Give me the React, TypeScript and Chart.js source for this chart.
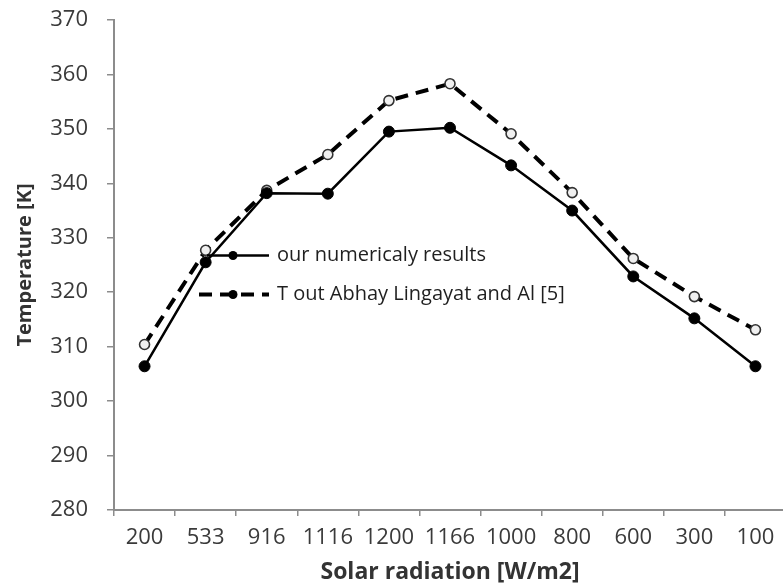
import React, { useEffect, useRef } from "react";
import { Chart, registerables } from "chart.js";

Chart.register(...registerables);

// ---- data ----
const categories = ["200", "533", "916", "1116", "1200", "1166", "1000", "800", "600", "300", "100"];
const numericalResults = [306.4, 325.5, 338.2, 338.1, 349.5, 350.2, 343.3, 335.0, 322.9, 315.2, 306.4];
const lingayatResults = [310.4, 327.7, 338.7, 345.3, 355.2, 358.3, 349.1, 338.3, 326.2, 319.2, 313.1];
const seriesNames = ["our numericaly results", "T out Abhay Lingayat and Al [5]"];
const yMin = 280;
const yMax = 370;
const yStep = 10;
const xTitle = "Solar radiation [W/m2]";
const yTitle = "Temperature [K]";

const FONT = "'Open Sans', 'DejaVu Sans', sans-serif";
const AXIS_COLOR = "#8c8c8c";
const TICK_COLOR = "#3a3a3a";
const TITLE_COLOR = "#333333";

const insideLegend = {
  id: "insideLegend",
  afterDatasetsDraw(chart: any) {
    const ctx = chart.ctx as CanvasRenderingContext2D;
    const area = chart.chartArea;
    const rowsY = [area.top + 235.5, area.top + 274.5];
    const x0 = area.left + 85;
    const x1 = area.left + 155;
    const mx = area.left + 119;
    const tx = area.left + 163;
    chart.data.datasets.forEach((ds: any, i: number) => {
      const y = rowsY[i];
      ctx.save();
      ctx.strokeStyle = ds.borderColor;
      ctx.lineWidth = ds.borderWidth;
      ctx.setLineDash(ds.borderDash || []);
      ctx.lineCap = "butt";
      ctx.beginPath();
      ctx.moveTo(i === 0 ? x0 + 8 : x0, y);
      ctx.lineTo(x1, y);
      ctx.stroke();
      ctx.setLineDash([]);
      ctx.fillStyle = "#000";
      ctx.beginPath();
      ctx.arc(mx, y, 4.5, 0, Math.PI * 2);
      ctx.fill();
      ctx.fillStyle = "#1f1f1f";
      ctx.font = `400 20px ${FONT}`;
      ctx.textBaseline = "middle";
      ctx.textAlign = "left";
      ctx.fillText(ds.label, tx, y);
      ctx.restore();
    });
  },
};

export default function App() {
  const ref = useRef<HTMLCanvasElement>(null);

  useEffect(() => {
    if (!ref.current) return;
    const chart = new Chart(ref.current, {
      type: "line",
      data: {
        labels: categories,
        datasets: [
          {
            label: seriesNames[0],
            data: numericalResults,
            borderColor: "#000000",
            borderWidth: 2.5,
            pointRadius: 5.5,
            pointBackgroundColor: "#000000",
            pointBorderColor: "#000000",
            pointBorderWidth: 1,
            tension: 0,
            fill: false,
          },
          {
            label: seriesNames[1],
            data: lingayatResults,
            borderColor: "#000000",
            borderWidth: 4,
            borderDash: [13, 8],
            pointRadius: 5,
            pointBackgroundColor: "#f0f0f0",
            pointBorderColor: "#333333",
            pointBorderWidth: 1.6,
            tension: 0,
            fill: false,
          },
        ],
      },
      options: {
        animation: false,
        responsive: false,
        devicePixelRatio: 1,
        layout: { padding: { top: 20, right: 14, left: 0, bottom: 0 } },
        plugins: {
          legend: { display: false },
          tooltip: { enabled: false },
        },
        scales: {
          x: {
            type: "category",
            offset: true,
            ticks: {
              color: TICK_COLOR,
              font: { family: FONT, size: 22 },
              padding: 9,
              maxRotation: 0,
              autoSkip: false,
            },
            grid: {
              offset: true,
              drawOnChartArea: false,
              drawTicks: true,
              tickLength: 6,
              color: AXIS_COLOR,
              lineWidth: 1.5,
            },
            border: { display: true, color: AXIS_COLOR, width: 2 },
            title: {
              display: true,
              text: xTitle,
              color: TITLE_COLOR,
              font: { family: FONT, size: 23, weight: "bold" },
              padding: { top: 0, bottom: 0 },
            },
            afterFit: (s: any) => {
              s.height = 76;
              s.paddingLeft = 0;
              s.paddingRight = 0;
            },
          },
          y: {
            min: yMin,
            max: yMax,
            ticks: {
              stepSize: yStep,
              color: TICK_COLOR,
              font: { family: FONT, size: 22 },
              padding: 19,
            },
            grid: {
              drawOnChartArea: false,
              drawTicks: true,
              tickLength: 7,
              color: AXIS_COLOR,
              lineWidth: 1.5,
            },
            border: { display: true, color: AXIS_COLOR, width: 2 },
            title: {
              display: true,
              text: yTitle,
              color: TITLE_COLOR,
              font: { family: FONT, size: 20, weight: "bold" },
              padding: { top: 13, bottom: 0 },
            },
            afterFit: (s: any) => {
              s.width = 114;
              s.paddingTop = 0;
              s.paddingBottom = 0;
            },
          },
        },
      } as any,
      plugins: [insideLegend],
    });
    return () => chart.destroy();
  }, []);

  return (
    <div
      style={{
        position: "fixed",
        left: 0,
        top: 0,
        width: 783,
        height: 586,
        overflow: "hidden",
        background: "#ffffff",
      }}
    >
      <canvas ref={ref} width={800} height={586} style={{ display: "block", width: 800, height: 586 }} />
    </div>
  );
}
